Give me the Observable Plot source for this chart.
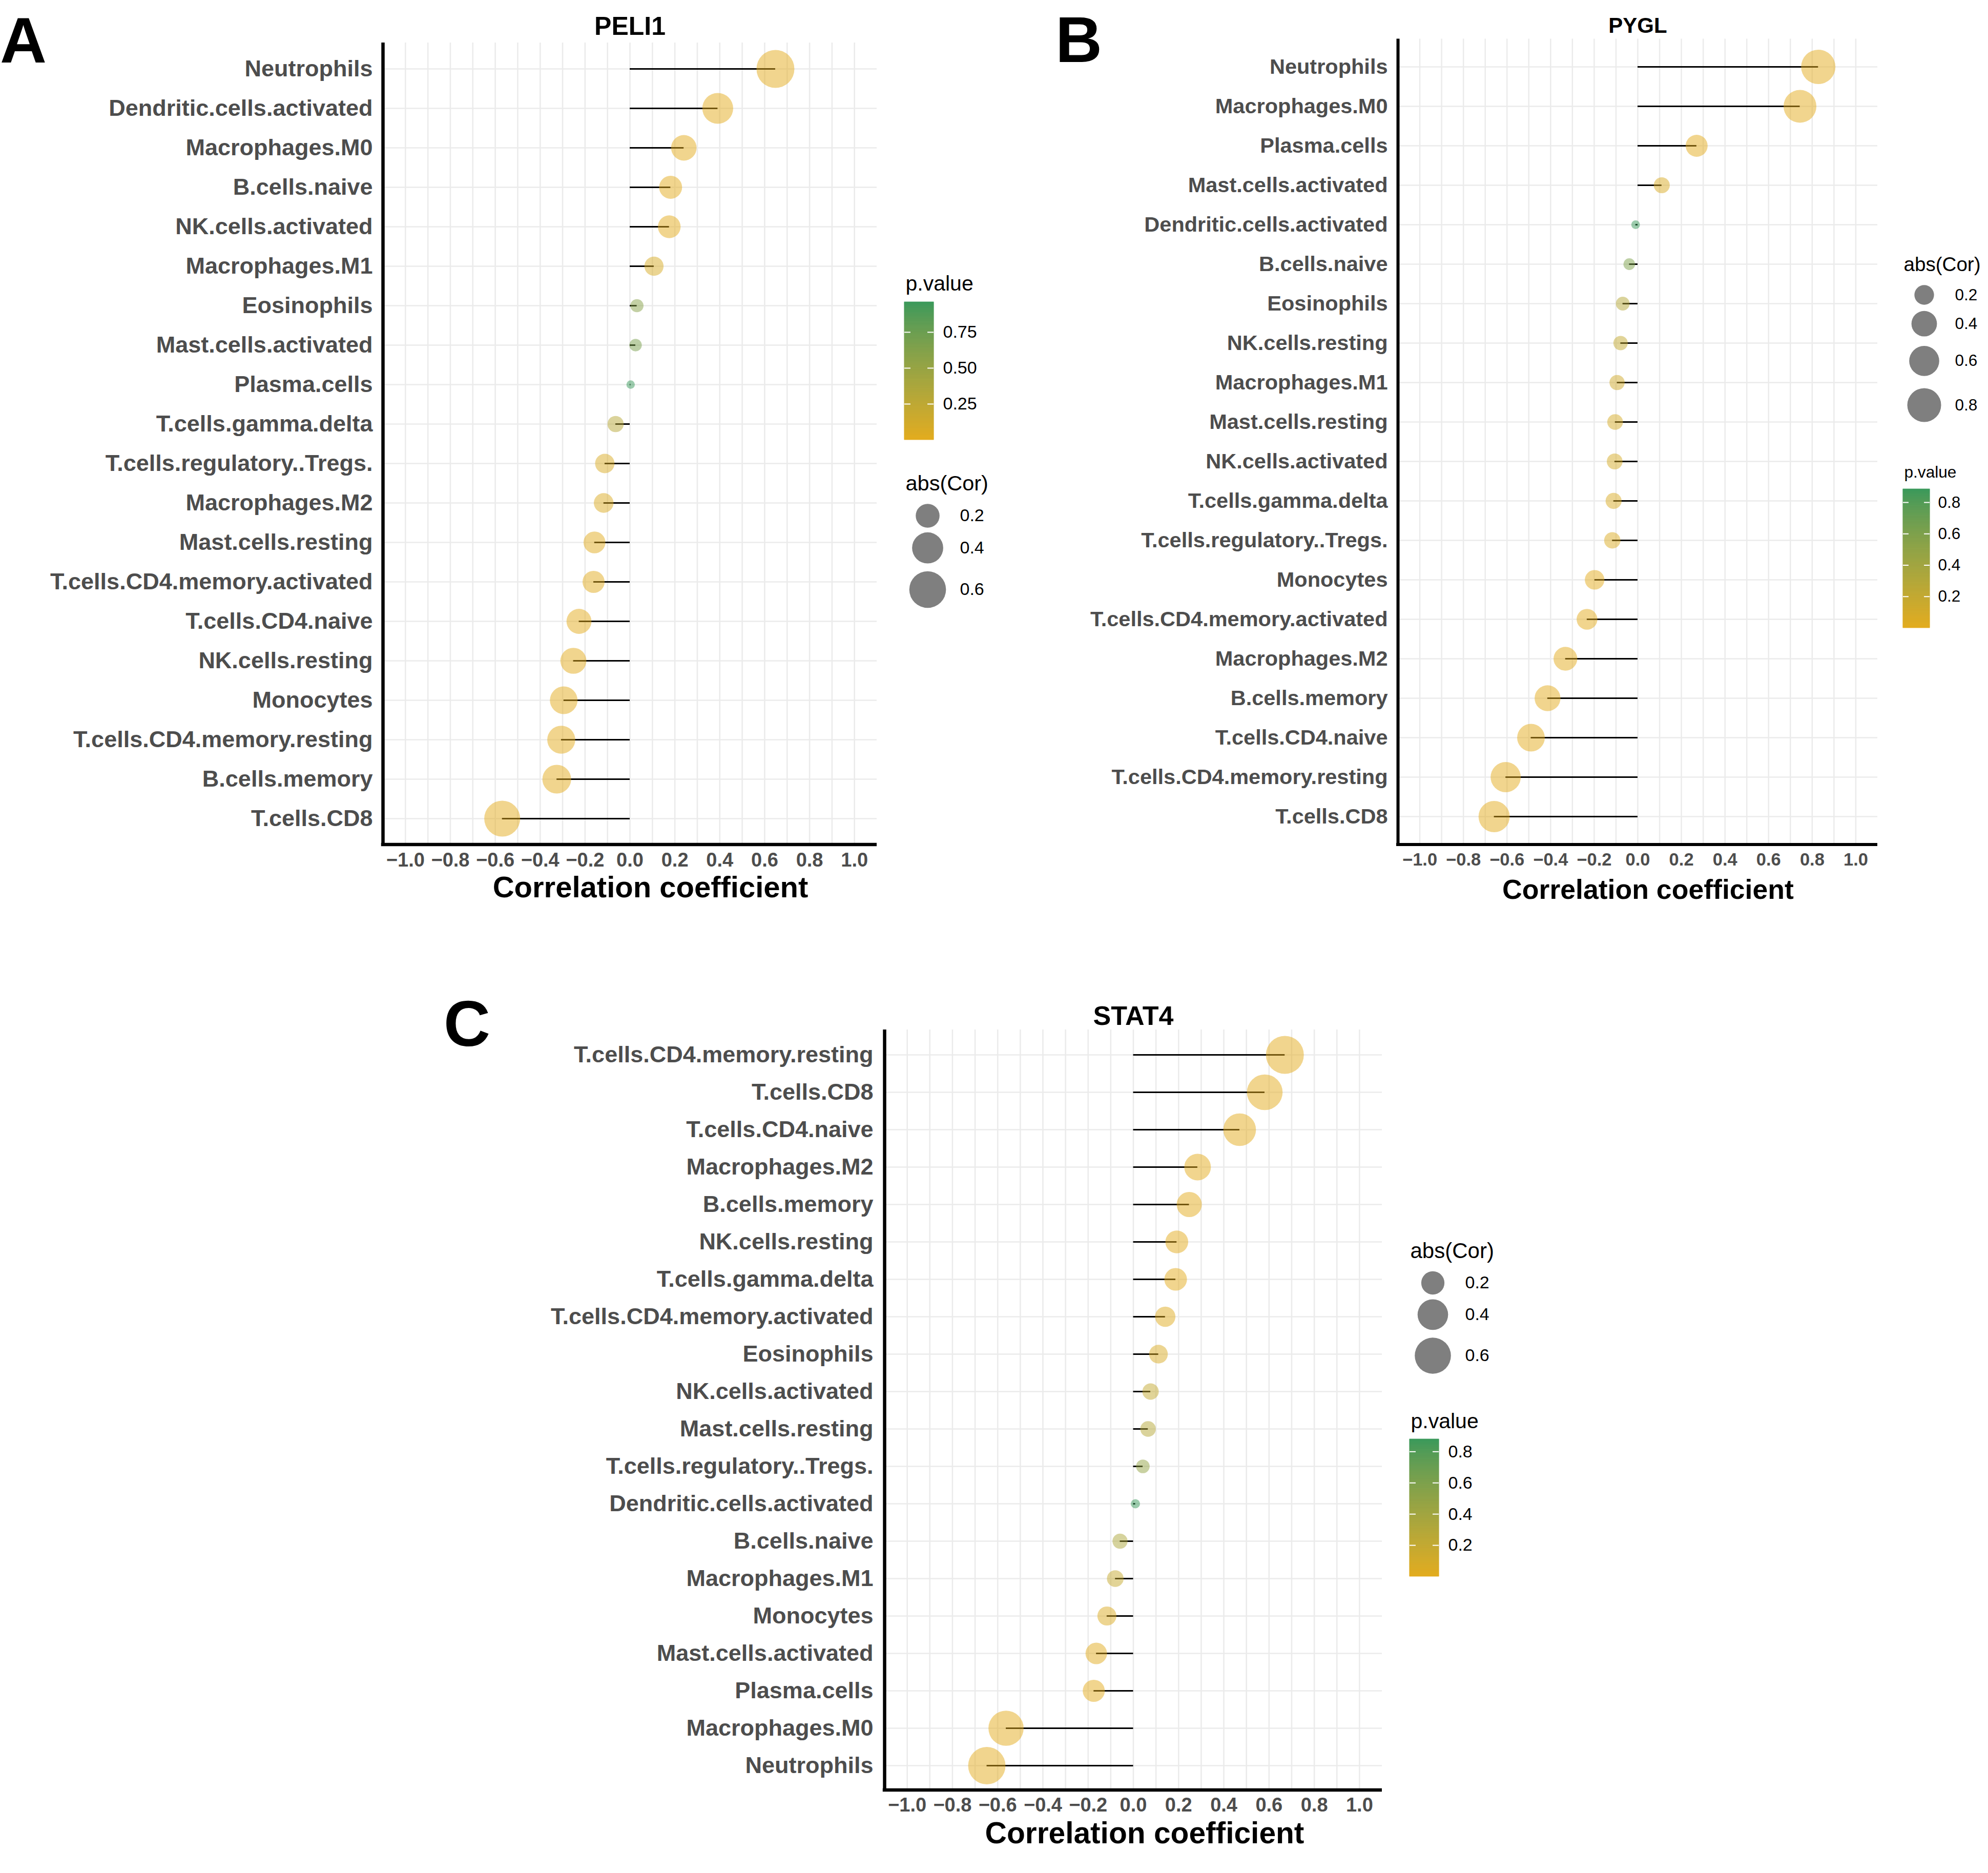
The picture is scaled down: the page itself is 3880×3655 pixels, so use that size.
<!DOCTYPE html>
<html>
<head>
<meta charset="utf-8">
<script src="https://cdn.jsdelivr.net/npm/d3@7"></script>
<script src="https://cdn.jsdelivr.net/npm/@observablehq/plot@0.6"></script>
<style>
  html, body { margin: 0; padding: 0; background: #ffffff; }
  #fig { position: relative; width: 3880px; height: 3655px; overflow: hidden; background: #ffffff; }
</style>
</head>
<body>
<div id="fig"></div>
<script>
// ---------- Immune-cell correlations per gene ----------
const peliCells = ["Neutrophils", "Dendritic.cells.activated", "Macrophages.M0", "B.cells.naive",
  "NK.cells.activated", "Macrophages.M1", "Eosinophils", "Mast.cells.activated", "Plasma.cells",
  "T.cells.gamma.delta", "T.cells.regulatory..Tregs.", "Macrophages.M2", "Mast.cells.resting",
  "T.cells.CD4.memory.activated", "T.cells.CD4.naive", "NK.cells.resting", "Monocytes",
  "T.cells.CD4.memory.resting", "B.cells.memory", "T.cells.CD8"];
const peliCor = [0.648, 0.391, 0.240, 0.181, 0.175, 0.107, 0.031, 0.025, 0.003,
  -0.064, -0.112, -0.117, -0.158, -0.162, -0.227, -0.252, -0.295, -0.306, -0.326, -0.569];
const peliP = [0.00000, 0.00000, 0.0001, 0.002, 0.003, 0.074, 0.60, 0.68, 0.96,
  0.29, 0.061, 0.050, 0.008, 0.007, 0.0001, 0.00002, 0.00000, 0.00000, 0.00000, 0.00000];

const pyglCells = ["Neutrophils", "Macrophages.M0", "Plasma.cells", "Mast.cells.activated",
  "Dendritic.cells.activated", "B.cells.naive", "Eosinophils", "NK.cells.resting", "Macrophages.M1",
  "Mast.cells.resting", "NK.cells.activated", "T.cells.gamma.delta", "T.cells.regulatory..Tregs.",
  "Monocytes", "T.cells.CD4.memory.activated", "Macrophages.M2", "B.cells.memory",
  "T.cells.CD4.naive", "T.cells.CD4.memory.resting", "T.cells.CD8"];
const pyglCor = [0.828, 0.744, 0.270, 0.110, -0.010, -0.039, -0.069, -0.079, -0.095,
  -0.104, -0.106, -0.111, -0.117, -0.198, -0.233, -0.332, -0.414, -0.490, -0.606, -0.659];
const pyglP = [0.00000, 0.00000, 0.00001, 0.066, 0.885, 0.60, 0.28, 0.20, 0.12,
  0.083, 0.080, 0.064, 0.050, 0.0009, 0.0001, 0.00000, 0.00000, 0.00000, 0.00000, 0.00000];

const stat4Cells = ["T.cells.CD4.memory.resting", "T.cells.CD8", "T.cells.CD4.naive", "Macrophages.M2",
  "B.cells.memory", "NK.cells.resting", "T.cells.gamma.delta", "T.cells.CD4.memory.activated",
  "Eosinophils", "NK.cells.activated", "Mast.cells.resting", "T.cells.regulatory..Tregs.",
  "Dendritic.cells.activated", "B.cells.naive", "Macrophages.M1", "Monocytes",
  "Mast.cells.activated", "Plasma.cells", "Macrophages.M0", "Neutrophils"];
const stat4Cor = [0.670, 0.581, 0.470, 0.284, 0.247, 0.192, 0.187, 0.141, 0.111, 0.076,
  0.065, 0.042, 0.009, -0.059, -0.080, -0.117, -0.164, -0.175, -0.563, -0.648];
const stat4P = [0.00000, 0.00000, 0.00000, 0.00000, 0.00003, 0.001, 0.002, 0.018, 0.064, 0.20,
  0.28, 0.48, 0.88, 0.33, 0.18, 0.052, 0.006, 0.003, 0.00000, 0.00000];

// ---------- Tick labels and legend breaks ----------
const xTicks = [-1.0, -0.8, -0.6, -0.4, -0.2, 0.0, 0.2, 0.4, 0.6, 0.8, 1.0];
const xGrid = [-1.0, -0.9, -0.8, -0.7, -0.6, -0.5, -0.4, -0.3, -0.2, -0.1, 0.0,
  0.1, 0.2, 0.3, 0.4, 0.5, 0.6, 0.7, 0.8, 0.9, 1.0];
const peliPTicks = [0.25, 0.50, 0.75];
const pyglPTicks = [0.2, 0.4, 0.6, 0.8];
const stat4PTicks = [0.2, 0.4, 0.6, 0.8];
const peliSizeBreaks = [0.2, 0.4, 0.6];
const pyglSizeBreaks = [0.2, 0.4, 0.6, 0.8];
const stat4SizeBreaks = [0.2, 0.4, 0.6];
const xTitle = "Correlation coefficient";

// ---------- Shared styling ----------
const FONT = '"Liberation Sans", Arial, Helvetica, sans-serif';
const LOW = "#E3AC1E";
const HIGH = "#3A995B";
const GRID = "#EBEBEB";
const TEXT = "#4D4D4D";
const SVG_STYLE = `font-family: ${FONT}; background: transparent; overflow: visible;`;

const fig = document.getElementById("fig");
function place(el, left, top) {
  el.style.position = "absolute";
  el.style.left = left + "px";
  el.style.top = top + "px";
  fig.appendChild(el);
}

function tableOf(cells, cor, p) {
  return cells.map((cell, i) => ({cell, cor: cor[i], p: p[i], abs: Math.abs(cor[i])}));
}
function colorOpts(p) {
  return {type: "linear", domain: d3.extent(p), range: [LOW, HIGH], interpolate: "lab"};
}
function rOpts(cor, rRange) {
  return {type: "sqrt", domain: d3.extent(cor, Math.abs), range: rRange};
}

// bottom axis line along the lower edge of the frame
function baseLine(sw) {
  return (index, scales, values, dims) => {
    const ns = "http://www.w3.org/2000/svg";
    const line = document.createElementNS(ns, "line");
    const y = dims.height - dims.marginBottom;
    line.setAttribute("x1", dims.marginLeft - sw / 2);
    line.setAttribute("x2", dims.width - dims.marginRight);
    line.setAttribute("y1", y);
    line.setAttribute("y2", y);
    line.setAttribute("stroke", "black");
    line.setAttribute("stroke-width", sw);
    return line;
  };
}

function lollipop(g) {
  const data = tableOf(g.cells, g.cor, g.p);
  const L = g.layout;
  const svg = Plot.plot({
    width: L.width, height: L.height,
    marginLeft: L.ml, marginRight: L.mr, marginTop: L.mt, marginBottom: L.mb,
    style: SVG_STYLE,
    x: {domain: [-1.1, 1.1], axis: null},
    y: {type: "point", domain: g.cells, padding: 0.6, axis: null},
    color: colorOpts(g.p),
    r: rOpts(g.cor, g.rRange),
    marks: [
      Plot.gridX(xGrid, {stroke: GRID, strokeOpacity: 1, strokeWidth: L.grid}),
      Plot.gridY({stroke: GRID, strokeOpacity: 1, strokeWidth: L.grid}),
      Plot.ruleY(data, {y: "cell", x1: 0, x2: "cor", stroke: "black", strokeWidth: L.stem}),
      Plot.dot(data, {x: "cor", y: "cell", r: "abs", fill: "p", fillOpacity: 0.5}),
      Plot.axisX({ticks: xTicks, tickFormat: d3.format(".1f"), tickSize: 0, tickPadding: L.xPad,
        fontSize: L.xFont, fontWeight: "bold", fill: TEXT, label: null}),
      Plot.axisY({tickSize: 0, tickPadding: L.yPad, fontSize: L.yFont, fontWeight: "bold",
        fill: TEXT, label: null}),
      Plot.ruleX([-1.1], {stroke: "black", strokeWidth: L.axis}),
      baseLine(L.axis),
      Plot.text([g.title], {text: d => d, frameAnchor: "top", dy: L.titleDy, lineAnchor: "bottom",
        fontSize: L.titleFont, fontWeight: "bold", fill: "black"}),
      Plot.text([xTitle], {text: d => d, frameAnchor: "bottom", dy: L.xTitleDy, dx: L.xTitleDx,
        lineAnchor: "bottom", fontSize: L.xTitleFont, fontWeight: "bold", fill: "black"})
    ]
  });
  place(svg, L.left, L.top);
}

function colorbar(g) {
  const C = g.cbar;
  const [p0, p1] = d3.extent(g.p);
  const N = 300;
  const steps = d3.range(N).map(i => ({a: p0 + (p1 - p0) * i / N, b: p0 + (p1 - p0) * (i + 1) / N}));
  const svg = Plot.plot({
    width: C.width, height: C.height,
    marginLeft: C.ml, marginRight: C.mr, marginTop: C.mt, marginBottom: C.mb,
    style: SVG_STYLE,
    x: {domain: [0, 1], axis: null},
    y: {domain: [p0, p1], axis: null},
    color: colorOpts(g.p),
    marks: [
      Plot.rect(steps, {x1: 0, x2: 1, y1: "a", y2: "b", fill: d => (d.a + d.b) / 2, inset: -0.4}),
      Plot.ruleY(g.pTicks, {x1: 0, x2: 0.21, stroke: "white", strokeWidth: 2}),
      Plot.ruleY(g.pTicks, {x1: 0.79, x2: 1, stroke: "white", strokeWidth: 2}),
      Plot.text(g.pTicks, {x: 1, y: d => d, text: d3.format(g.pFormat), dx: C.labelDx,
        textAnchor: "start", fontSize: C.labelFont, fill: "black"}),
      Plot.text(["p.value"], {text: d => d, frameAnchor: "top-left", dy: C.titleDy, dx: 2,
        lineAnchor: "bottom", textAnchor: "start", fontSize: C.titleFont, fill: "black"})
    ]
  });
  place(svg, C.left, C.top);
}

function sizeLegend(g) {
  const S = g.sleg;
  const svg = Plot.plot({
    width: S.width, height: S.height,
    marginLeft: S.ml, marginRight: 0, marginTop: S.mt, marginBottom: 0,
    style: SVG_STYLE,
    x: {domain: [0, 1], range: [S.cx, S.lx], axis: null},
    y: {type: "pow", exponent: 1.5, domain: d3.extent(g.sizeBreaks), range: [S.y0, S.y1], axis: null},
    r: rOpts(g.cor, g.rRange),
    marks: [
      Plot.dot(g.sizeBreaks, {x: 0, y: d => d, r: d => d, fill: "black", fillOpacity: 0.5}),
      Plot.text(g.sizeBreaks, {x: 1, y: d => d, text: d3.format(".1f"), textAnchor: "start",
        fontSize: S.labelFont, fill: "black"}),
      Plot.text(["abs(Cor)"], {text: d => d, frameAnchor: "top-left", lineAnchor: "bottom",
        textAnchor: "start", fontSize: S.titleFont, fill: "black"})
    ]
  });
  place(svg, S.left, S.top);
}

// ---------- Panel letters ----------
(function letters() {
  const ns = "http://www.w3.org/2000/svg";
  const svg = document.createElementNS(ns, "svg");
  svg.setAttribute("width", 3880);
  svg.setAttribute("height", 3655);
  svg.style.fontFamily = FONT;
  [["A", 0, 122], ["B", 2060, 121], ["C", 866, 2041]].forEach(([t, x, y]) => {
    const el = document.createElementNS(ns, "text");
    el.setAttribute("x", x);
    el.setAttribute("y", y);
    el.setAttribute("font-size", 126);
    el.setAttribute("font-weight", "bold");
    el.setAttribute("fill", "black");
    el.textContent = t;
    svg.appendChild(el);
  });
  place(svg, 0, 0);
})();

// ---------- Panels ----------
const panels = [
  {
    title: "PELI1", cells: peliCells, cor: peliCor, p: peliP,
    pTicks: peliPTicks, pFormat: ".2f", sizeBreaks: peliSizeBreaks, rRange: [8.2, 37],
    layout: {left: 0, top: 0, width: 1760, height: 1790, ml: 747, mr: 49, mt: 83, mb: 142,
      grid: 2.6, stem: 3, axis: 6.5, xPad: 16, xFont: 38, yPad: 20, yFont: 45,
      titleDy: -16, titleFont: 50, xTitleDy: 102, xTitleDx: 40, xTitleFont: 58},
    cbar: {left: 1745, top: 500, width: 250, height: 400, ml: 20, mr: 173, mt: 89, mb: 42,
      labelDx: 18, labelFont: 34, titleDy: -23, titleFont: 41},
    sleg: {left: 1745, top: 880, width: 250, height: 320, ml: 22, mt: 76, cx: 65, lx: 128,
      y0: 126, y1: 270, labelFont: 34, titleFont: 41.5}
  },
  {
    title: "PYGL", cells: pyglCells, cor: pyglCor, p: pyglP,
    pTicks: pyglPTicks, pFormat: ".1f", sizeBreaks: pyglSizeBreaks, rRange: [8.4, 33.5],
    layout: {left: 1900, top: 0, width: 1800, height: 1790, ml: 828, mr: 36, mt: 75.5, mb: 142,
      grid: 2.5, stem: 3, axis: 6, xPad: 16, xFont: 34.5, yPad: 20, yFont: 41.5,
      titleDy: -12, titleFont: 42, xTitleDy: 105, xTitleDx: 20, xTitleFont: 53.6},
    cbar: {left: 3690, top: 870, width: 190, height: 390, ml: 24, mr: 114, mt: 84, mb: 35,
      labelDx: 16, labelFont: 31.5, titleDy: -23, titleFont: 31.6},
    sleg: {left: 3690, top: 470, width: 190, height: 360, ml: 25, mt: 58, cx: 65, lx: 125,
      y0: 105, y1: 320, labelFont: 31.5, titleFont: 38.6}
  },
  {
    title: "STAT4", cells: stat4Cells, cor: stat4Cor, p: stat4P,
    pTicks: stat4PTicks, pFormat: ".1f", sizeBreaks: stat4SizeBreaks, rRange: [9, 37],
    layout: {left: 800, top: 1900, width: 1950, height: 1755, ml: 926, mr: 53, mt: 109, mb: 162,
      grid: 2.6, stem: 3, axis: 6.5, xPad: 15, xFont: 38, yPad: 22, yFont: 45,
      titleDy: -10, titleFont: 52, xTitleDy: 103, xTitleDx: 22, xTitleFont: 58.7},
    cbar: {left: 2730, top: 2720, width: 250, height: 400, ml: 21, mr: 172, mt: 88, mb: 44,
      labelDx: 18, labelFont: 34, titleDy: -22, titleFont: 41},
    sleg: {left: 2730, top: 2380, width: 300, height: 320, ml: 22, mt: 74, cx: 66, lx: 129,
      y0: 123, y1: 265, labelFont: 34, titleFont: 42}
  }
];

panels.forEach(g => {
  lollipop(g);
  colorbar(g);
  sizeLegend(g);
});
</script>
</body>
</html>
